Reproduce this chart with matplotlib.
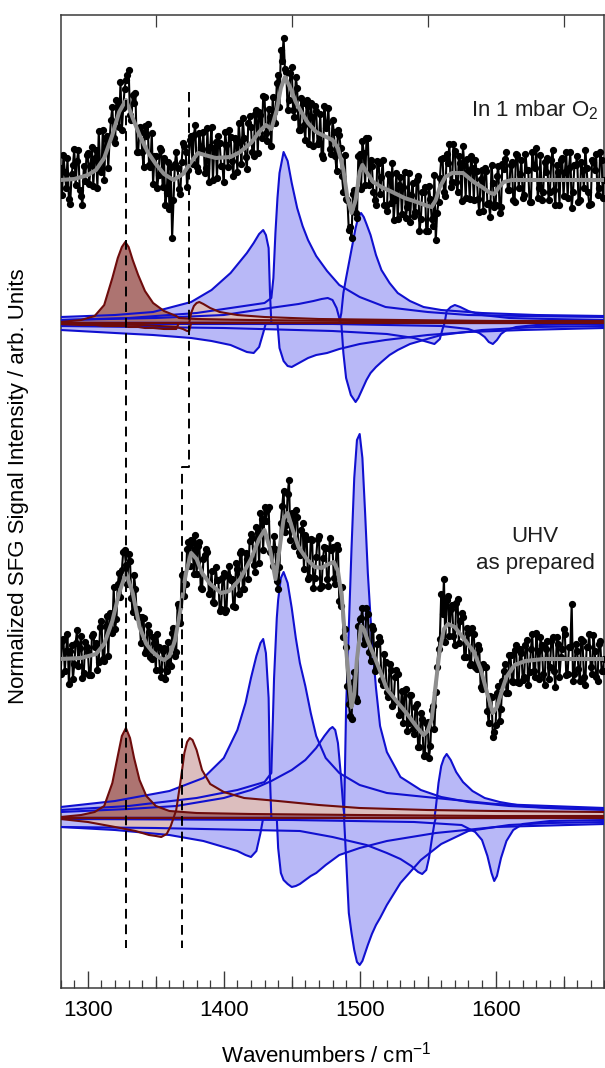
import numpy as np
import matplotlib
matplotlib.use('Agg')
import matplotlib.pyplot as plt
from matplotlib.ticker import MultipleLocator, FixedLocator, NullFormatter

plt.rcParams['font.family'] = ['Liberation Sans', 'DejaVu Sans']
plt.rcParams['mathtext.fontset'] = 'custom'
plt.rcParams['mathtext.rm'] = 'Liberation Sans'

# ---------------------------------------------------------------- data
# measured spectra, 1 cm-1 steps; stored as even / odd wavenumber readings
wn_even = np.arange(1280, 1681, 2)
wn_odd = np.arange(1281, 1680, 2)

o2_even = [
    12, 25, -8, -19, 6, 31, 19, -10, -25, -1,
    27, 15, -6, 30, 49, 8, 0, 44, 41, 73,
    37, 74, 98, 72, 100, 110, 60, 77, 28, 53,
    28, 54, 56, 13, -4, 24, 5, 30, 22, -13,
    -29, -58, 16, 12, -14, 37, 28, 10, 44, 45,
    13, 47, 31, 7, 52, 33, 0, 38, 44, 14,
    -2, 35, 50, 19, 42, 8, 38, 62, 23, 57,
    53, 24, 70, 68, 42, 83, 39, 63, 83, 57,
    105, 130, 142, 108, 80, 113, 63, 92, 50, 77,
    40, 74, 77, 34, 69, 38, 25, 74, 57, 31,
    60, 24, 50, 32, -12, -19, -50, -58, -10, -38,
    26, 39, -5, 42, 20, -12, -25, 17, 3, -25,
    -31, 5, 17, -20, -39, 3, -7, -38, 7, -15,
    -36, 0, -51, -12, -7, -51, -19, -46, -60, -22,
    21, -12, 26, 36, -2, 29, -12, 17, 34, -18,
    8, 24, -20, 9, -32, 10, 12, -24, -37, -3,
    -25, 14, -27, 11, 28, -10, 18, -22, 25, 6,
    -18, 26, 10, -22, 14, 32, -8, -20, 18, 22,
    -12, 30, -25, 8, 20, -16, 28, 12, -28, 15,
    24, -20, 10, 30, -12, -24, 18, 26, -8, 20,
    0,
]
o2_odd = [
    -15, 8, 22, -24, 15, -5, 30, -16, 14, 25,
    -4, 33, 22, -8, 11, 50, 41, 12, 60, 42,
    80, 53, 50, 91, 105, 65, 85, 87, 28, 48,
    13, 44, 15, 47, 24, -8, 32, -7, -25, 18,
    13, -20, 28, -9, 18, 34, -7, 40, 16, 55,
    9, 33, 48, 12, -2, 53, 32, 2, 37, 14,
    48, 13, 43, 4, 40, 57, 16, 42, 11, 64,
    28, 66, 27, 65, 84, 47, 71, 34, 68, 97,
    73, 119, 111, 70, 107, 70, 103, 50, 82, 55,
    80, 36, 63, 74, 36, 66, 22, 52, 72, 26,
    48, 9, 45, 4, 25, -20, -47, -14, -33, 24,
    -9, 27, 42, -5, 14, -20, 19, -14, 20, -26,
    6, -23, -40, 7, -5, -34, 8, -27, -42, -3,
    -32, 4, -39, -12, -51, -6, -39, 5, -33, 2,
    22, -16, 17, -7, 36, -2, 24, -21, 15, 21,
    -19, 12, 20, -19, 1, -31, 9, -23, 15, -27,
    4, -33, 16, 21, -10, 15, -20, 26, -8, 20,
    -15, 10, -22, 28, 12, -18, 25, -12, 8, -20,
    20, -10, 15, -25, 22, 8, -18, 28, -12, 15,
    -22, 18, -8, 12, -25, 20, 10, -15, 28, -18,
]

uhv_even = [
    -15, 20, 8, -25, 14, -5, 29, 11, -19, 17,
    7, -16, 25, 16, -3, 38, -2, 43, 46, 26,
    30, 75, 62, 107, 94, 105, 61, 84, 42, 42,
    42, 6, 34, 2, 22, -11, 12, -18, 11, -12,
    -5, 26, 3, 55, 36, 85, 75, 117, 119, 85,
    85, 117, 70, 104, 107, 66, 57, 92, 79, 50,
    86, 49, 93, 80, 52, 90, 106, 70, 106, 80,
    125, 94, 132, 96, 140, 152, 149, 107, 93, 110,
    70, 136, 168, 134, 179, 146, 113, 142, 104, 136,
    124, 80, 120, 71, 102, 123, 73, 112, 80, 121,
    112, 75, 110, 53, 22, 12, -45, -60, -13, -42,
    40, 51, 20, 45, -2, 30, -10, 22, -21, 5,
    -33, -5, -47, -18, -15, -55, -64, -30, -64, -36,
    -75, -45, -88, -60, -96, -63, -87, -47, -33, 10,
    65, 80, 59, 23, 54, 14, 60, 38, 42, 2,
    26, -5, 25, -10, 10, -30, -8, -52, -37, -78,
    -66, -27, -50, -12, -34, 4, -22, 9, -23, 10,
    -21, 14, -26, 10, -12, 26, -20, 14, -26, 18,
    -8, 22, -28, 15, 2, 30, -16, 12, 55, -15,
    8, -22, 18, -26, 12, -8, 24, -18, 15, -12,
    0,
]
uhv_odd = [
    18, -12, 25, 8, -20, 16, -7, 23, -14, 12,
    -16, 23, 12, -11, 32, 0, 33, 3, 45, 72,
    40, 86, 89, 109, 75, 98, 47, 70, 50, 16,
    41, 8, 27, 0, 16, 25, -11, 8, -20, 17,
    -7, 31, 7, 52, 84, 63, 110, 93, 117, 124,
    113, 71, 100, 110, 65, 88, 56, 79, 48, 81,
    47, 83, 79, 53, 96, 65, 108, 70, 100, 118,
    121, 87, 127, 146, 109, 138, 152, 110, 123, 78,
    92, 153, 127, 165, 119, 145, 149, 107, 129, 90,
    120, 82, 119, 81, 120, 71, 101, 111, 73, 109,
    81, 114, 58, 72, 30, -27, -57, -23, -39, 33,
    41, 15, 51, 7, 33, -12, 15, 18, -26, -3,
    -38, -11, -43, -11, -56, -32, -31, -72, -36, -70,
    -48, -88, -54, -97, -64, -99, -51, -70, -8, 20,
    45, 17, 63, 50, 23, 56, 16, 46, 2, 31,
    -6, 31, -8, 14, -28, -5, -8, -64, -38, -73,
    -34, -62, -22, -5, -34, 4, -23, 14, -24, 6,
    -18, 19, -13, 25, -18, 8, 22, -15, 10, -20,
    18, -12, 22, -18, 10, 25, -15, 12, -22, 15,
    -10, 20, -18, 12, 25, -15, 8, -22, 18, -12,
]

# fitted curves (grey)
o2_fit_x = [1280, 1290, 1300, 1306, 1312, 1318, 1323, 1328, 1333, 1338,
            1344, 1350, 1356, 1363, 1370, 1376, 1381, 1386, 1394, 1405,
            1412, 1420, 1426, 1431, 1435, 1439, 1442, 1445, 1449, 1453,
            1457, 1462, 1468, 1474, 1480, 1484, 1488, 1491, 1494, 1497,
            1500, 1502, 1505, 1510, 1516, 1524, 1533, 1542, 1550, 1553,
            1556, 1559, 1563, 1568, 1576, 1584, 1590, 1596, 1599, 1602,
            1606, 1612, 1620, 1680]
o2_fit_y = [0, 1, 5, 10, 22, 45, 68, 80, 62, 45,
            28, 16, 6, 0, 6, 18, 27, 25, 22, 23,
            28, 37, 48, 55, 51, 70, 92, 103, 92, 78,
            68, 57, 48, 44, 40, 32, 10, -18, -33, -20,
            8, 15, 8, -2, -7, -12, -18, -22, -26, -27,
            -20, -7, 3, 7, 7, -2, -7, -13, -14, -8,
            -2, 0, 0, 0]

uhv_fit_x = [1280, 1295, 1306, 1312, 1318, 1323, 1328, 1333, 1338, 1343,
             1347, 1352, 1356, 1360, 1364, 1368, 1372, 1376, 1380, 1384,
             1390, 1398, 1404, 1412, 1420, 1426, 1430, 1434, 1438, 1441,
             1444, 1447, 1451, 1455, 1461, 1467, 1472, 1477, 1481, 1484,
             1487, 1489, 1492, 1494, 1496, 1498, 1501, 1503, 1506, 1510,
             1515, 1520, 1527, 1535, 1542, 1547, 1550, 1553, 1556, 1559,
             1562, 1565, 1570, 1578, 1584, 1589, 1594, 1598, 1601, 1605,
             1608, 1614, 1622, 1635, 1680]
uhv_fit_y = [0, 1, 5, 15, 38, 66, 86, 66, 32, 15,
             8, 2, -1, 3, 18, 48, 85, 106, 100, 86,
             75, 66, 68, 80, 100, 120, 129, 110, 80, 110,
             140, 146, 128, 112, 100, 92, 91, 95, 97, 88,
             60, 25, -20, -48, -35, 0, 33, 30, 18, 5,
             -12, -30, -42, -55, -68, -76, -72, -60, -25, 10,
             30, 35, 32, 18, 7, -10, -35, -54, -48, -30,
             -18, -6, -2, 0, 0]

# fit components, UHV as prepared: x, upper branch, lower branch
uhv_c1_x = [1280, 1295, 1305, 1312, 1318, 1322, 1325, 1328, 1331, 1334,
            1338, 1343, 1350, 1360, 1380, 1420, 1500, 1600, 1680]
uhv_c1_up = [1, 3, 6, 12, 35, 62, 82, 90, 80, 60,
             38, 22, 12, 7, 5, 4, 3, 2, 2]
uhv_c1_lo = [0] * 19

uhv_c2_x = [1280, 1300, 1320, 1335, 1345, 1350, 1354, 1358, 1361, 1363,
            1365, 1368, 1371, 1373, 1375, 1377, 1380, 1384, 1390, 1400,
            1415, 1440, 1470, 1500, 1550, 1600, 1680]
uhv_c2_up = [0, 0, 0, 0, 0, 0, 0, 0, 0, 0,
             8, 35, 65, 76, 80, 78, 68, 48, 34, 26,
             20, 17, 13, 10, 8, 7, 6]
uhv_c2_lo = [-1, -4, -9, -13, -17, -18, -19, -16, -8, 0,
             0, 0, 0, 0, 0, 0, 0, 0, 0, 0,
             0, 0, 0, 0, 0, 0, 0]

uhv_b1_x = [1280, 1320, 1360, 1385, 1400, 1410, 1416, 1420, 1424, 1427,
            1429, 1431, 1433, 1434, 1435]
uhv_b1_up = [11, 17, 27, 40, 60, 88, 115, 140, 162, 175,
             179, 165, 120, 40, 0]
uhv_b1_lo = [-9, -12, -17, -23, -29, -33, -37, -39, -33, -15,
             0, 0, 0, 0, 0]

uhv_b2_x = [1280, 1330, 1380, 1410, 1430, 1435, 1437, 1439, 1440, 1442,
            1444, 1447, 1450, 1453, 1456, 1460, 1464, 1468, 1475, 1485,
            1500, 1520, 1556, 1600, 1680]
uhv_b2_up = [8, 12, 20, 28, 36, 45, 140, 200, 218, 240,
             246, 235, 210, 180, 155, 132, 105, 82, 60, 45,
             33, 25, 20, 14, 10]
uhv_b2_lo = [0, 0, 0, 0, 0, 0, 0, 0, -30, -55,
             -62, -66, -69, -68, -66, -62, -58, -55, -47, -37,
             -30, -23, -15, -9, -6]

uhv_b3_x = [1280, 1330, 1365, 1400, 1420, 1435, 1450, 1460, 1468, 1474,
            1478, 1480, 1482, 1484, 1486, 1488, 1489]
uhv_b3_up = [6, 9, 12, 20, 28, 37, 48, 58, 70, 82,
             89, 91, 88, 75, 45, 10, 0]
uhv_b3_lo = [0] * 17

uhv_b4_x = [1280, 1487, 1488.5, 1490, 1492, 1494, 1496, 1498, 1500, 1502,
            1504, 1506, 1509, 1512, 1515, 1520, 1530, 1545, 1560, 1580,
            1610, 1640, 1680]
uhv_b4_up = [0, 0, 0, 110, 190, 270, 340, 378, 384, 360,
             305, 245, 178, 130, 92, 66, 41, 28, 21, 16,
             12, 10, 9]
uhv_b4_lo = [0, 0, 0, -40, -95, -115, -132, -144, -147, -143,
             -135, -127, -116, -107, -100, -87, -65, -42, -26, -13,
             -7, -5, -4]

uhv_b5_x = [1280, 1350, 1420, 1456, 1480, 1505, 1520, 1530, 1538, 1543,
            1546, 1549, 1551, 1553, 1555, 1556, 1558, 1560, 1562, 1564,
            1567, 1571, 1576, 1583, 1592, 1603, 1620, 1640, 1680]
uhv_b5_up = [0, 0, 0, 0, 0, 0, 0, 0, 0, 0,
             0, 0, 0, 0, 0, 10, 35, 52, 60, 64,
             58, 46, 36, 27, 20, 16, 12, 10, 8]
uhv_b5_lo = [-9, -10, -12, -13, -19, -27, -35, -41, -48, -54,
             -56, -52, -40, -22, -5, 0, 0, 0, 0, 0,
             0, 0, 0, 0, 0, 0, 0, 0, 0]

uhv_b6_x = [1280, 1450, 1540, 1575, 1585, 1590, 1594, 1597, 1599, 1601,
            1604, 1608, 1613, 1620, 1640, 1680]
uhv_b6_up = [0] * 16
uhv_b6_lo = [-1, -2, -4, -7, -14, -22, -38, -55, -63, -58,
             -40, -23, -12, -6, -3, -2]

# fit components, in 1 mbar O2
o2_c1_x = [1280, 1295, 1305, 1312, 1318, 1322, 1325, 1327.5, 1330, 1333,
           1337, 1342, 1348, 1356, 1365, 1367, 1380, 1420, 1500, 1600, 1680]
o2_c1_up = [1, 3, 7, 18, 45, 65, 76, 81, 76, 63,
            48, 32, 20, 12, 7, 5, 4, 3, 2, 2, 2]
o2_c1_lo = [-1, -2, -2, -3, -3, -3, -3, -3, -4, -4,
            -4, -5, -5, -6, -6, 0, 0, 0, 0, 0, 0]

o2_c2_x = [1280, 1340, 1365, 1370, 1373, 1374.5, 1376, 1378, 1380, 1382,
           1385, 1390, 1397, 1410, 1430, 1470, 1530, 1600, 1680]
o2_c2_up = [0, 0, 0, 0, 0, 0, 10, 17, 20, 21,
            19, 15, 11, 8, 6, 4, 3, 2, 2]
o2_c2_lo = [-1, -2, -4, -6, -8, -8, 0, 0, 0, 0,
            0, 0, 0, 0, 0, 0, 0, 0, 0]

o2_b1_x = [1280, 1320, 1348, 1376, 1391, 1405, 1417, 1422, 1426, 1429,
           1431, 1433, 1434, 1435]
o2_b1_up = [6, 8, 11, 21, 33, 50, 70, 80, 89, 93,
            88, 75, 30, 0]
o2_b1_lo = [-7, -10, -12, -15, -18, -22, -29, -30, -24, -10,
            0, 0, 0, 0]

o2_b2_x = [1280, 1330, 1380, 1430, 1435, 1436.5, 1438, 1439.5, 1441, 1444,
           1447, 1450, 1454, 1458, 1462, 1468, 1476, 1485, 1500, 1519,
           1550, 1580, 1620, 1680]
o2_b2_up = [3, 5, 10, 20, 25, 45, 90, 125, 150, 171,
            162, 140, 115, 97, 83, 67, 52, 38, 26, 16,
            11, 8, 7, 6]
o2_b2_lo = [0, 0, 0, 0, 0, 0, 0, 0, -25, -38,
            -43, -44, -41, -38, -35, -32, -30, -26, -21, -17,
            -12, -9, -7, -5]

o2_b3_x = [1280, 1350, 1400, 1434, 1455, 1466, 1472, 1476.5, 1480, 1483,
           1485, 1486]
o2_b3_up = [3, 5, 8, 15, 19, 22, 24, 25, 23, 15, 5, 0]
o2_b3_lo = [0] * 12

o2_b4_x = [1280, 1480, 1485, 1486.5, 1488, 1490, 1493.5, 1497, 1499, 1501,
           1503, 1505, 1508, 1512, 1516, 1522, 1528, 1537, 1547, 1560,
           1590, 1630, 1680]
o2_b4_up = [0, 0, 0, 10, 30, 45, 70, 95, 106, 110,
            106, 99, 88, 68, 53, 40, 30, 22, 16, 13,
            10, 8, 7]
o2_b4_lo = [0, 0, 0, 0, -30, -55, -72, -79, -75, -69,
            -63, -57, -50, -44, -39, -32, -27, -21, -17, -12,
            -7, -4, -3]

o2_b5_x = [1280, 1400, 1480, 1520, 1540, 1550, 1555, 1559, 1561, 1562.5,
           1564, 1567, 1570, 1574, 1580, 1590, 1610, 1640, 1680]
o2_b5_up = [0, 0, 0, 0, 0, 0, 0, 0, 0, 0,
            12, 16, 18, 16, 12, 8, 5, 4, 3]
o2_b5_lo = [-3, -5, -8, -11, -15, -19, -21, -16, -6, 0,
            0, 0, 0, 0, 0, 0, 0, 0, 0]

o2_b6_x = [1280, 1480, 1560, 1580, 1588, 1592, 1595, 1598, 1601, 1604,
           1608, 1615, 1630, 1680]
o2_b6_up = [0] * 14
o2_b6_lo = [-1, -1, -3, -6, -10, -14, -19, -21, -17, -11,
            -7, -4, -2, -1]

# dashed guide lines (wavenumber, height)
guide1_x = [1328, 1328]
guide1_y = [888, 40]
guide2_x = [1374.5, 1374.5, 1369.3, 1369.3]
guide2_y = [896, 521, 521, 40]

# vertical offsets of the stacked traces
O2_OFFSET = 808
O2_FIT_OFFSET = 665
UHV_OFFSET = 329
UHV_FIT_OFFSET = 170

BLUE_EDGE = '#1010d0'
BLUE_FILL = '#b8b8f7'
RED_EDGE = '#6e0c0c'
DARK_FILL = '#ad7471'
LIGHT_FILL = '#dcbebe'


def draw_component(ax, x, up, lo, offset, face, edge):
    """Filled fit component between its upper and lower branch"""
    x = np.asarray(x, dtype=float)
    up = np.asarray(up, dtype=float) + offset
    lo = np.asarray(lo, dtype=float) + offset
    ax.fill_between(x, lo, up, facecolor=face, edgecolor='none', zorder=2)
    ax.plot(x, up, color=edge, lw=1.5, zorder=3)
    ax.plot(x, lo, color=edge, lw=1.5, zorder=3)


def draw_spectrum(ax, even, odd, fit_x, fit_y, offset):
    """Measured points plus grey fit"""
    x = np.concatenate([wn_even, wn_odd])
    y = np.concatenate([even, odd]).astype(float)
    order = np.argsort(x)
    ax.plot(x[order], y[order] + offset, color='black', lw=1.5,
            marker='o', ms=4.2, zorder=5)
    ax.plot(fit_x, np.asarray(fit_y) + offset, color='#8e8e8e', lw=2.9,
            zorder=6)


def main():
    fig = plt.figure(figsize=(6.05, 10.68), dpi=100)
    ax = fig.add_axes([60.7 / 605, 80 / 1068, 543.6 / 605, 973 / 1068])

    # UHV components
    for x, up, lo in [(uhv_b1_x, uhv_b1_up, uhv_b1_lo),
                      (uhv_b2_x, uhv_b2_up, uhv_b2_lo),
                      (uhv_b3_x, uhv_b3_up, uhv_b3_lo),
                      (uhv_b4_x, uhv_b4_up, uhv_b4_lo),
                      (uhv_b5_x, uhv_b5_up, uhv_b5_lo),
                      (uhv_b6_x, uhv_b6_up, uhv_b6_lo)]:
        draw_component(ax, x, up, lo, UHV_FIT_OFFSET, BLUE_FILL, BLUE_EDGE)
    draw_component(ax, uhv_c2_x, uhv_c2_up, uhv_c2_lo, UHV_FIT_OFFSET,
                   LIGHT_FILL, RED_EDGE)
    draw_component(ax, uhv_c1_x, uhv_c1_up, uhv_c1_lo, UHV_FIT_OFFSET,
                   DARK_FILL, RED_EDGE)

    # O2 components
    for x, up, lo in [(o2_b1_x, o2_b1_up, o2_b1_lo),
                      (o2_b2_x, o2_b2_up, o2_b2_lo),
                      (o2_b3_x, o2_b3_up, o2_b3_lo),
                      (o2_b4_x, o2_b4_up, o2_b4_lo),
                      (o2_b5_x, o2_b5_up, o2_b5_lo),
                      (o2_b6_x, o2_b6_up, o2_b6_lo)]:
        draw_component(ax, x, up, lo, O2_FIT_OFFSET, BLUE_FILL, BLUE_EDGE)
    draw_component(ax, o2_c2_x, o2_c2_up, o2_c2_lo, O2_FIT_OFFSET,
                   LIGHT_FILL, RED_EDGE)
    draw_component(ax, o2_c1_x, o2_c1_up, o2_c1_lo, O2_FIT_OFFSET,
                   DARK_FILL, RED_EDGE)

    draw_spectrum(ax, uhv_even, uhv_odd, uhv_fit_x, uhv_fit_y, UHV_OFFSET)
    draw_spectrum(ax, o2_even, o2_odd, o2_fit_x, o2_fit_y, O2_OFFSET)

    ax.plot(guide1_x, guide1_y, color='black', lw=1.4, ls=(0, (5, 3)), zorder=7)
    ax.plot(guide2_x, guide2_y, color='black', lw=1.4, ls=(0, (5, 3)), zorder=7)

    ax.text(1676, 872, 'In 1 mbar O$_2$', ha='right', va='baseline',
            fontsize=16, color='#1e1e1e')
    ax.text(1629, 451, 'UHV', ha='center', va='center', fontsize=16,
            color='#1e1e1e')
    ax.text(1629, 425, 'as prepared', ha='center', va='center', fontsize=16,
            color='#1e1e1e')

    ax.set_xlim(1280, 1680)
    ax.set_ylim(0, 973)

    # axes styling
    for sp in ax.spines.values():
        sp.set_color('#3a3a3a')
        sp.set_linewidth(1.1)
    ax.set_yticks([])
    ax.xaxis.set_major_locator(MultipleLocator(100))
    ax.xaxis.set_minor_locator(MultipleLocator(10))
    ax.tick_params(axis='x', which='major', direction='in', length=12.2,
                   width=1.0, top=True, bottom=True, labelsize=16, pad=9,
                   color='#3a3a3a')
    ax.tick_params(axis='x', which='minor', direction='in', length=5.8,
                   width=0.9, top=True, bottom=True, color='#3a3a3a')

    # intermediate ticks every 50 cm-1
    ax2 = ax.twiny()
    ax2.set_xlim(ax.get_xlim())
    ax2.xaxis.set_major_locator(FixedLocator([1350, 1450, 1550, 1650]))
    ax2.xaxis.set_major_formatter(NullFormatter())
    ax2.tick_params(axis='x', which='major', direction='in', length=8.6,
                    width=0.9, top=True, bottom=True, labeltop=False,
                    labelbottom=False, color='#3a3a3a')
    ax2.set_yticks([])
    for sp in ax2.spines.values():
        sp.set_visible(False)

    ax.set_xlabel('Wavenumbers / cm$^{-1}$', fontsize=16)
    ax.xaxis.set_label_coords(0.488, -0.055)
    ax.set_ylabel('Normalized SFG Signal Intensity / arb. Units', fontsize=16)
    ax.yaxis.set_label_coords(-0.058, 0.516)

    fig.savefig('out.png', dpi=100)


if __name__ == '__main__':
    main()
